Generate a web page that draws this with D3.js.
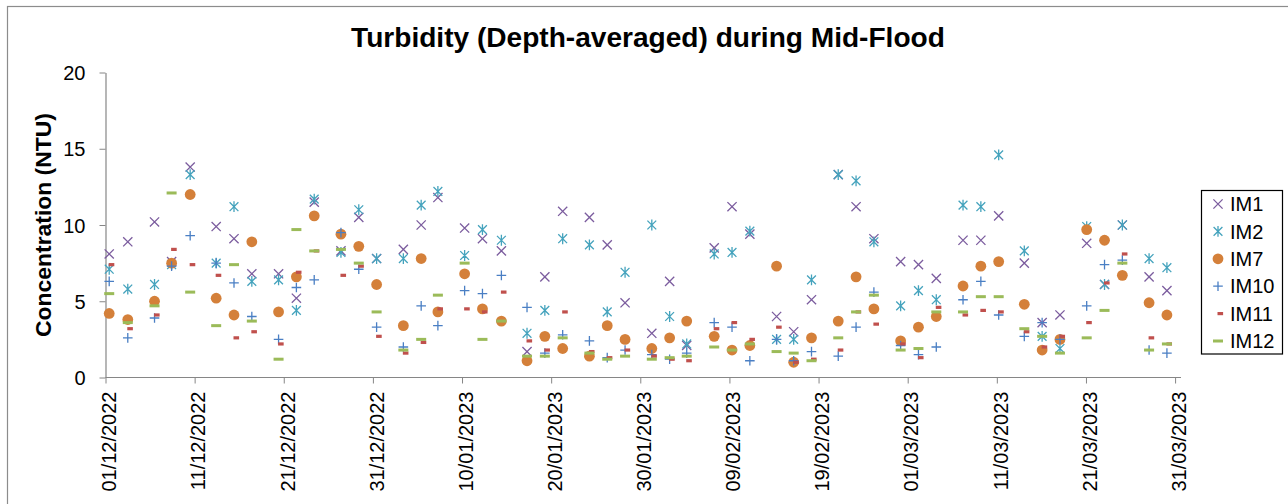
<!DOCTYPE html>
<html>
<head>
<meta charset="utf-8">
<script src="https://cdn.jsdelivr.net/npm/d3@7"></script>
<style>
  body { margin: 0; background: #fff; }
  text { font-family: "Liberation Sans", Arial, sans-serif; }
</style>
</head>
<body>
<svg id="chart" width="1288" height="504"></svg>
<script>
// sampling times (mid-flood), dd/mm/yyyy hh:mm
const times = [
  "01/12/2022 10:00", "03/12/2022 12:00", "06/12/2022 12:00", "08/12/2022 10:00", "10/12/2022 12:00",
  "13/12/2022 10:00", "15/12/2022 10:00", "17/12/2022 10:00", "20/12/2022 10:00", "22/12/2022 10:00",
  "24/12/2022 10:00", "27/12/2022 10:00", "29/12/2022 10:00", "31/12/2022 10:00", "03/01/2023 10:00",
  "05/01/2023 10:00", "07/01/2023 07:00", "10/01/2023 07:00", "12/01/2023 07:00", "14/01/2023 10:00",
  "17/01/2023 07:00", "19/01/2023 07:00", "21/01/2023 07:00", "24/01/2023 07:00", "26/01/2023 07:00",
  "28/01/2023 07:00", "31/01/2023 07:00", "02/02/2023 07:00", "04/02/2023 05:00", "07/02/2023 07:00",
  "09/02/2023 07:00", "11/02/2023 07:00", "14/02/2023 07:00", "16/02/2023 05:00", "18/02/2023 05:00",
  "21/02/2023 05:00", "23/02/2023 05:00", "25/02/2023 05:00", "28/02/2023 05:00", "02/03/2023 05:00",
  "04/03/2023 05:00", "07/03/2023 05:00", "09/03/2023 05:00", "11/03/2023 05:00", "14/03/2023 02:00",
  "16/03/2023 02:00", "18/03/2023 02:00", "21/03/2023 02:00", "23/03/2023 02:00", "25/03/2023 02:00",
  "28/03/2023 02:00", "30/03/2023 02:00"
];

const im1 = [8.1, 8.9, 10.2, 7.6, 13.8, 9.9, 9.1, 6.8, 6.8, 5.2,
  11.5, 8.3, 10.5, 7.8, 8.4, 10.0, 11.8, 9.8, 9.1, 8.3,
  1.7, 6.6, 10.9, 10.5, 8.7, 4.9, 2.9, 6.3, 2.1, 8.5,
  11.2, 9.4, 4.0, 3.0, 5.1, 13.3, 11.2, 9.1, 7.6, 7.4,
  6.5, 9.0, 9.0, 10.6, 7.5, 3.6, 4.1, 8.8, 6.1, 10.0,
  6.6, 5.7];
const im2 = [7.1, 5.8, 6.1, 7.4, 13.3, 7.5, 11.2, 6.3, 6.4, 4.4,
  11.7, 8.2, 11.0, 7.8, 7.8, 11.3, 12.2, 8.0, 9.7, 9.0,
  2.9, 4.4, 9.1, 8.7, 4.3, 6.9, 10.0, 4.0, 2.2, 8.1,
  8.2, 9.6, 2.5, 2.5, 6.4, 13.3, 12.9, 8.9, 4.7, 5.7,
  5.1, 11.3, 11.2, 14.6, 8.3, 2.7, 1.9, 9.9, 6.1, 10.0,
  7.8, 7.2];
const im7 = [4.2, 3.8, 5.0, 7.5, 12.0, 5.2, 4.1, 8.9, 4.3, 6.6,
  10.6, 9.4, 8.6, 6.1, 3.4, 7.8, 4.3, 6.8, 4.5, 3.7,
  1.1, 2.7, 1.9, 1.4, 3.4, 2.5, 1.9, 2.6, 3.7, 2.7,
  1.8, 2.1, 7.3, 1.0, 2.6, 3.7, 6.6, 4.5, 2.4, 3.3,
  4.0, 6.0, 7.3, 7.6, 4.8, 1.8, 2.5, 9.7, 9.0, 6.7,
  4.9, 4.1];
const im10 = [6.3, 2.6, 3.9, 7.3, 9.3, 7.5, 6.2, 4.0, 2.5, 5.9,
  6.4, 9.5, 7.1, 3.3, 2.0, 4.7, 3.4, 5.7, 5.5, 6.7,
  4.6, 1.6, 2.8, 2.4, 1.3, 1.8, 1.5, 1.2, 1.6, 3.6,
  3.3, 1.1, 2.5, 1.1, 1.7, 1.4, 3.3, 5.6, 2.1, 1.5,
  2.0, 5.1, 6.3, 4.1, 2.7, 3.6, 2.5, 4.7, 7.4, 7.7,
  1.8, 1.6];
const im11 = [7.4, 3.2, 4.1, 8.4, 7.4, 6.7, 2.6, 3.0, 2.2, 6.9,
  8.3, 6.7, 7.3, 2.7, 1.6, 2.3, 4.5, 4.5, 4.3, 5.6,
  2.4, 1.8, 4.3, 1.7, 1.3, 1.8, 1.4, 1.2, 1.1, 3.2,
  3.6, 2.5, 3.3, 1.0, 1.2, 1.8, 4.3, 3.5, 2.2, 1.3,
  4.6, 4.1, 4.4, 4.3, 3.0, 2.0, 2.7, 3.6, 6.2, 8.1,
  2.6, 2.2];
const im12 = [5.5, 3.6, 4.7, 12.1, 5.6, 3.4, 7.4, 3.7, 1.2, 9.7,
  8.3, 8.4, 7.5, 4.3, 1.8, 2.5, 5.4, 7.5, 2.5, 3.7,
  1.4, 1.4, 2.6, 1.6, 1.2, 1.4, 1.2, 1.3, 1.4, 2.0,
  1.8, 2.2, 1.7, 1.6, 1.1, 2.6, 4.3, 5.4, 1.8, 1.9,
  4.3, 4.3, 5.3, 5.3, 3.2, 2.7, 1.6, 2.6, 4.4, 7.5,
  1.8, 2.2];

const seriesNames = ["IM1", "IM2", "IM7", "IM10", "IM11", "IM12"];
const seriesValues = [im1, im2, im7, im10, im11, im12];
const seriesColors = ["#7B5C9E", "#45A3BD", "#D4803A", "#4A7FC4", "#C0504D", "#9BBB59"];
const markerKinds = ["times", "asterisk", "circle", "plus", "shortdash", "dash"];

const yTicks = [0, 5, 10, 15, 20];
const xTickDates = ["01/12/2022", "11/12/2022", "21/12/2022", "31/12/2022", "10/01/2023", "20/01/2023",
  "30/01/2023", "09/02/2023", "19/02/2023", "01/03/2023", "11/03/2023", "21/03/2023", "31/03/2023"];

const parseTime = d3.timeParse("%d/%m/%Y %H:%M");
const parseDay = d3.timeParse("%d/%m/%Y");
const fmt = d3.timeFormat("%d/%m/%Y");

const svg = d3.select("#chart");

// outer chart border
svg.append("rect")
  .attr("x", 7.5).attr("y", 6.5)
  .attr("width", 1300).attr("height", 520)
  .attr("fill", "none").attr("stroke", "#8c8c8c").attr("stroke-width", 1.2);

const x = d3.scaleTime()
  .domain([parseDay("01/12/2022"), parseDay("01/04/2023")])
  .range([105.5, 1184]);
const y = d3.scaleLinear().domain([0, 20]).range([377.5, 72.5]);

// axes
const xAxis = svg.append("g")
  .attr("transform", `translate(0,${y(0)})`)
  .call(d3.axisBottom(x).tickValues(xTickDates.map(parseDay)).tickFormat(fmt).tickSize(6).tickSizeOuter(0));
xAxis.select(".domain").attr("d", `M${x.range()[0]},0H${x.range()[1] - 3}`);
xAxis.selectAll("line").attr("stroke", "#868686");
xAxis.select(".domain").attr("stroke", "#868686");
xAxis.selectAll("text")
  .attr("font-size", 20)
  .attr("fill", "#000")
  .attr("transform", "rotate(-90)")
  .attr("text-anchor", "end")
  .attr("dy", null)
  .attr("x", -14)
  .attr("y", 5)
  .attr("dominant-baseline", "middle");

const yAxis = svg.append("g")
  .attr("transform", `translate(${x.range()[0]},0)`)
  .call(d3.axisLeft(y).tickValues(yTicks).tickSize(6).tickPadding(14).tickSizeOuter(0));
yAxis.selectAll("line").attr("stroke", "#868686");
yAxis.select(".domain").attr("stroke", "#868686");
yAxis.selectAll("text").attr("font-size", 20).attr("fill", "#000").attr("dy", "0.35em");
svg.selectAll(".domain").attr("stroke-width", 1.2);

// marker drawing
function markerPath(kind) {
  const p = d3.path();
  if (kind === "times") {
    const r = 4.6;
    p.moveTo(-r, -r); p.lineTo(r, r); p.moveTo(-r, r); p.lineTo(r, -r);
  } else if (kind === "asterisk") {
    const r = 4.4;
    p.moveTo(-r, -r); p.lineTo(r, r); p.moveTo(-r, r); p.lineTo(r, -r);
    p.moveTo(0, -5.4); p.lineTo(0, 5.4);
  } else if (kind === "plus") {
    const r = 4.8;
    p.moveTo(-r, 0); p.lineTo(r, 0); p.moveTo(0, -r); p.lineTo(0, r);
  }
  return p.toString();
}

function drawMarker(g, kind, color) {
  if (kind === "circle") {
    g.append("circle").attr("r", 5.4).attr("fill", color);
  } else if (kind === "shortdash") {
    g.append("rect").attr("x", -0.5).attr("y", -1.6).attr("width", 5.6).attr("height", 3.2).attr("fill", color);
  } else if (kind === "dash") {
    g.append("rect").attr("x", -5).attr("y", -1.5).attr("width", 10).attr("height", 3).attr("fill", color);
  } else {
    g.append("path").attr("d", markerPath(kind))
      .attr("fill", "none").attr("stroke", color).attr("stroke-width", 1.3);
  }
}

const dates = times.map(parseTime);
const plot = svg.append("g");
seriesValues.forEach((vals, i) => {
  const pts = plot.append("g").selectAll("g")
    .data(vals.map((v, j) => ({ t: dates[j], v: v })))
    .join("g")
    .attr("transform", d => `translate(${x(d.t)},${y(d.v)})`);
  pts.each(function () { drawMarker(d3.select(this), markerKinds[i], seriesColors[i]); });
});

// title
const title = svg.append("text")
  .attr("x", 648).attr("y", 47)
  .attr("text-anchor", "middle")
  .attr("font-weight", "bold")
  .attr("font-size", 26)
  .attr("fill", "#000")
  .text("Turbidity (Depth-averaged) during Mid-Flood");
title.attr("font-size", 26 * 594 / title.node().getComputedTextLength());

// y-axis title
const ylab = svg.append("text")
  .attr("transform", "translate(51,225) rotate(-90)")
  .attr("text-anchor", "middle")
  .attr("font-weight", "bold")
  .attr("font-size", 21)
  .attr("fill", "#000")
  .text("Concentration (NTU)");
ylab.attr("font-size", 21 * 224 / ylab.node().getComputedTextLength());

// legend
const legend = svg.append("g");
legend.append("rect")
  .attr("x", 1201.5).attr("y", 190.5)
  .attr("width", 81).attr("height", 163.5)
  .attr("fill", "#fff").attr("stroke", "#000").attr("stroke-width", 1.2);
seriesNames.forEach((name, i) => {
  const row = legend.append("g").attr("transform", `translate(1218,${204 + i * 27.4})`);
  drawMarker(row, markerKinds[i], seriesColors[i]);
  row.append("text")
    .attr("x", 12).attr("y", 0)
    .attr("dy", "0.36em")
    .attr("font-size", 20)
    .attr("fill", "#000")
    .text(name);
});
</script>
</body>
</html>
